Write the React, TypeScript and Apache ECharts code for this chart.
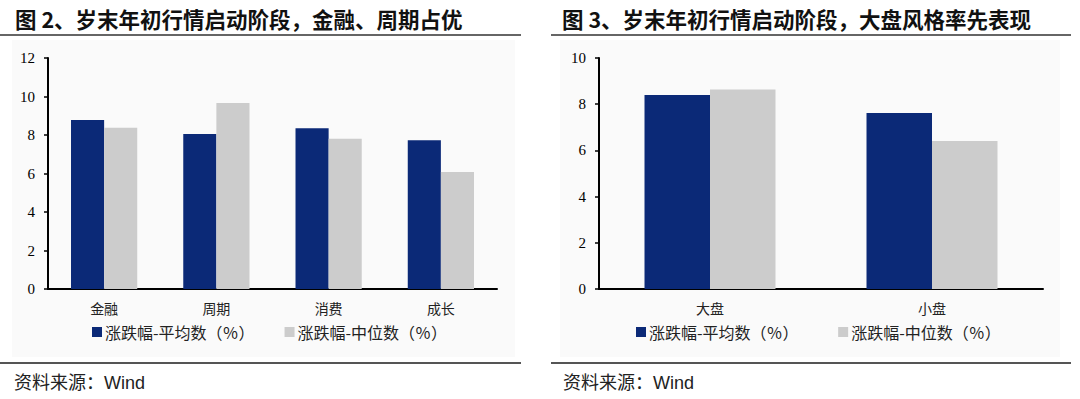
import React, { useEffect, useRef } from "react";
import * as echarts from "echarts";

const leftCategories = ["金融", "周期", "消费", "成长"];
const leftMean = [8.78, 8.05, 8.35, 7.73];
const leftMedian = [8.38, 9.66, 7.8, 6.08];

const rightCategories = ["大盘", "小盘"];
const rightMean = [8.4, 7.62];
const rightMedian = [8.64, 6.41];

const meanName = "涨跌幅-平均数（％）";
const medianName = "涨跌幅-中位数（％）";
const leftTitle = "图 2、岁末年初行情启动阶段，金融、周期占优";
const rightTitle = "图 3、岁末年初行情启动阶段，大盘风格率先表现";
const sourceText = "资料来源：Wind";

const BLUE = "#0b2977";
const GRAY = "#cccccc";
const CJK = "'Noto Sans CJK SC', sans-serif";
const SANS = "'Liberation Sans', 'Noto Sans CJK SC', sans-serif";
const SERIF = "'Liberation Serif', 'DejaVu Serif', serif";

export default function App() {
  const ref = useRef<HTMLDivElement>(null);
  useEffect(() => {
    if (!ref.current) return;
    const chart = echarts.init(ref.current, null, { renderer: "svg" });
    const yAxisCommon = {
      type: "value",
      min: 0,
      interval: 2,
      axisLine: { show: true, lineStyle: { color: "#000", width: 2 } },
      axisTick: { show: true, inside: false, length: 4, lineStyle: { color: "#000", width: 1.5 } },
      splitLine: { show: false },
      axisLabel: { color: "#000", fontFamily: SERIF, fontSize: 15, margin: 13 },
    };
    const xAxisCommon = {
      type: "category",
      axisLine: { show: true, lineStyle: { color: "#000", width: 2 } },
      axisTick: { show: false },
      axisLabel: { color: "#222", fontFamily: CJK, fontSize: 14, margin: 12 },
    };
    const barCommon = { type: "bar", barGap: "0%", barCategoryGap: "41%" };
    const legendText = { fontFamily: CJK, fontSize: 16, color: "#222", padding: [0, 0, 0, -2] };
    chart.setOption({
      animation: false,
      backgroundColor: "#fff",
      grid: [
        { left: 48, right: 583, top: 58, bottom: 110 },
        { left: 599, right: 37, top: 58, bottom: 110 },
      ],
      xAxis: [
        { ...xAxisCommon, gridIndex: 0, data: leftCategories },
        { ...xAxisCommon, gridIndex: 1, data: rightCategories },
      ],
      yAxis: [
        { ...yAxisCommon, gridIndex: 0, max: 12 },
        { ...yAxisCommon, gridIndex: 1, max: 10 },
      ],
      legend: [
        {
          left: 87,
          top: 319,
          itemWidth: 10,
          itemHeight: 10,
          itemGap: 30,
          icon: "rect",
          textStyle: legendText,
          data: [
            { name: meanName, itemStyle: { color: BLUE } },
            { name: medianName, itemStyle: { color: GRAY } },
          ],
        },
        {
          left: 631,
          top: 319,
          itemWidth: 10,
          itemHeight: 10,
          itemGap: 36,
          icon: "rect",
          textStyle: legendText,
          data: [
            { name: meanName + " ", itemStyle: { color: BLUE } },
            { name: medianName + " ", itemStyle: { color: GRAY } },
          ],
        },
      ],
      series: [
        { ...barCommon, name: meanName, xAxisIndex: 0, yAxisIndex: 0, data: leftMean, itemStyle: { color: BLUE } },
        { ...barCommon, name: medianName, xAxisIndex: 0, yAxisIndex: 0, data: leftMedian, itemStyle: { color: GRAY } },
        { ...barCommon, name: meanName + " ", xAxisIndex: 1, yAxisIndex: 1, data: rightMean, itemStyle: { color: BLUE } },
        { ...barCommon, name: medianName + " ", xAxisIndex: 1, yAxisIndex: 1, data: rightMedian, itemStyle: { color: GRAY } },
      ],
      graphic: [
        { type: "rect", z: -10, shape: { x: 12, y: 40, width: 503, height: 317 }, style: { fill: "#fafafa" } },
        { type: "rect", z: -10, shape: { x: 560, y: 40, width: 500, height: 317 }, style: { fill: "#fafafa" } },
        { type: "text", x: 15, y: 18, style: { text: leftTitle, font: `bold 21.5px ${CJK}`, fill: "#111", verticalAlign: "middle" } },
        { type: "text", x: 562, y: 18, style: { text: rightTitle, font: `bold 21.5px ${CJK}`, fill: "#111", verticalAlign: "middle" } },
        { type: "line", shape: { x1: 0, y1: 35, x2: 521, y2: 35 }, style: { stroke: "#333", lineWidth: 1.5 } },
        { type: "line", shape: { x1: 551, y1: 35, x2: 1071, y2: 35 }, style: { stroke: "#333", lineWidth: 1.5 } },
        { type: "line", shape: { x1: 0, y1: 363, x2: 521, y2: 363 }, style: { stroke: "#555", lineWidth: 2 } },
        { type: "line", shape: { x1: 551, y1: 363, x2: 1071, y2: 363 }, style: { stroke: "#555", lineWidth: 2 } },
        { type: "text", x: 14, y: 383, style: { text: sourceText, font: `18px ${SANS}`, fill: "#222", verticalAlign: "middle" } },
        { type: "text", x: 563, y: 383, style: { text: sourceText, font: `18px ${SANS}`, fill: "#222", verticalAlign: "middle" } },
      ],
    });
    return () => chart.dispose();
  }, []);
  return (
    <div
      ref={ref}
      style={{ position: "fixed", left: 0, top: 0, width: 1080, height: 399 }}
    />
  );
}
